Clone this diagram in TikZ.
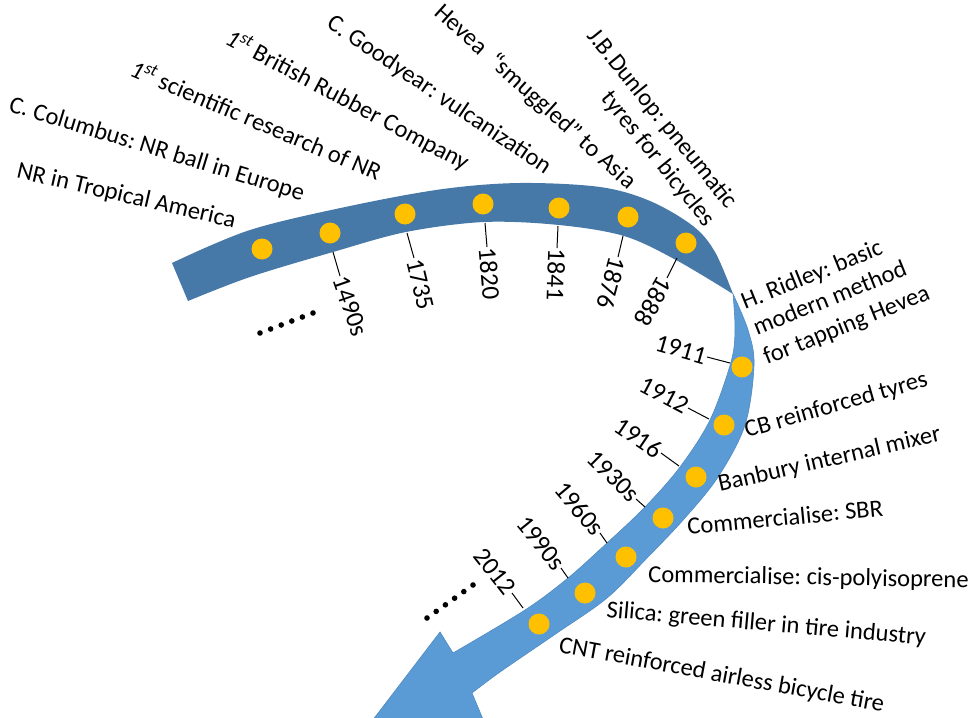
\documentclass[tikz,border=0pt]{standalone}
\usepackage{fontspec}
\setmainfont{Carlito}
\definecolor{darkband}{HTML}{4779A8}
\definecolor{lightband}{HTML}{5B9BD5}
\definecolor{lightedge}{HTML}{4F8AC2}
\definecolor{dotyel}{HTML}{FFC000}
\begin{document}
\frenchspacing
\begin{tikzpicture}[x=1pt,y=-1pt,
  evt/.style={font=\fontsize{24.5}{29}\selectfont, inner sep=0pt},
  yrup/.style={font=\fontsize{25.5}{29}\selectfont, inner sep=1pt, anchor=west},
  yrlow/.style={font=\fontsize{25.5}{29}\selectfont, inner sep=1pt, anchor=east},
  ticklink/.style={line width=1pt},
  ydot/.style={circle, fill=dotyel, minimum size=21pt, inner sep=0pt},
  edot/.style={fill=black}]
\clip (0,0) rectangle (973,717);
\fill[white] (0,0) rectangle (973,717);
% dark (upper) part of the band
\fill[darkband] plot[smooth,tension=0.55] coordinates {(172,263)(250,230)(350,206)(443,189)(520,183)(600,187)(650,201)(693,226)(715,252)(733,294)}
  -- plot[smooth,tension=0.55] coordinates {(733,294)(676,260)(624,236)(559,225)(484,222)(406,232)(333,252)(250,277)(188,301)} -- cycle;
% light (lower) part with arrow head
\filldraw[fill=lightband, draw=lightedge, line width=0.6pt] plot[smooth,tension=0.55] coordinates {(733,294)(748,330)(754,365)(745,425)(718,477)(684,519)(647,558)(607,598)(557,633)(500,672)(472,693)}
  -- (490,736) -- (359,738) -- (440,632)
  -- plot[smooth,tension=0.55] coordinates {(453,653)(525,610)(568,578)(607,543)(645,507)(680,467)(710,420)(731,362)(735,330)(733,294)} -- cycle;
% dots
\node[ydot] (d1) at (262,249) {};
\node[ydot] (d2) at (330,233) {};
\node[ydot] (d3) at (405,214) {};
\node[ydot] (d4) at (483,204) {};
\node[ydot] (d5) at (559,208) {};
\node[ydot] (d6) at (628,217) {};
\node[ydot] (d7) at (686,243) {};
\node[ydot] (d8) at (742,367) {};
\node[ydot] (d9) at (724,425) {};
\node[ydot] (d10) at (696,477) {};
\node[ydot] (d11) at (663,518) {};
\node[ydot] (d12) at (626,557) {};
\node[ydot] (d13) at (585,593) {};
\node[ydot] (d14) at (539,624) {};
% upper events
\node[evt, anchor=base east, rotate=-13] (e1) at (234,228) {NR in Tropical America};
\node[evt, anchor=base east, rotate=-17] (e2) at (302,201) {C. Columbus: NR ball in Europe};
\node[evt, anchor=base east, rotate=-23] (e3) at (377,181) {\textit{1\textsuperscript{st}} scientific research of NR};
\node[evt, anchor=base east, rotate=-28] (e4) at (464,171) {\textit{1\textsuperscript{st}} British Rubber Company};
\node[evt, anchor=base east, rotate=-34] (e5) at (545,175) {C. Goodyear: vulcanization};
\node[evt, anchor=base east, rotate=-42] (e6) at (628,190) {Hevea\ \ “smuggled” to Asia};
\node[evt, anchor=base east, rotate=-51] (e7a) at (727,210) {J.B.Dunlop: pneumatic};
\node[evt, anchor=base east, rotate=-51] (e7b) at (705,228) {tyres for bicycles};
% lower events
\node[evt, anchor=base west, rotate=22] (e8a) at (745,310) {H. Ridley: basic};
\node[evt, anchor=base west, rotate=22] (e8b) at (757,336) {modern method};
\node[evt, anchor=base west, rotate=22] (e8c) at (767,365) {for tapping Hevea};
\node[evt, anchor=base west, rotate=16] (e9) at (747,438) {CB reinforced tyres};
\node[evt, anchor=base west, rotate=13] (e10) at (720,492) {Banbury internal mixer};
\node[evt, anchor=base west, rotate=5.5] (e11) at (688,535) {Commercialise: SBR};
\node[evt, anchor=base west, rotate=-1] (e12) at (648,582) {Commercialise: cis-polyisoprene};
\node[evt, anchor=base west, rotate=-5] (e13) at (606,617) {Silica: green filler in tire industry};
\node[evt, anchor=base west, rotate=-10.5] (e14) at (558,652) {CNT reinforced airless bicycle tire};
% upper years
\coordinate (t2) at (333,252); \coordinate (u2) at (340,276);
\coordinate (t3) at (407,233); \coordinate (u3) at (414,258);
\coordinate (t4) at (485,223); \coordinate (u4) at (487,247);
\coordinate (t5) at (558,226); \coordinate (u5) at (557,248);
\coordinate (t6) at (623,236); \coordinate (u6) at (618,257);
\coordinate (t7) at (677,258); \coordinate (u7) at (667,278);
\node[yrup, rotate=-71] (y2) at (u2) {1490s};
\node[yrup, rotate=-76.5] (y3) at (u3) {1735};
\node[yrup, rotate=-85] (y4) at (u4) {1820};
\node[yrup, rotate=-92] (y5) at (u5) {1841};
\node[yrup, rotate=-105] (y6) at (u6) {1876};
\node[yrup, rotate=-120] (y7) at (u7) {1888};
\draw[ticklink] (t2) -- (y2.west);
\draw[ticklink] (t3) -- (y3.west);
\draw[ticklink] (t4) -- (y4.west);
\draw[ticklink] (t5) -- (y5.west);
\draw[ticklink] (t6) -- (y6.west);
\draw[ticklink] (t7) -- (y7.west);
% lower years
\coordinate (t8) at (730,363); \coordinate (u8) at (707,357);
\coordinate (t9) at (709,419); \coordinate (u9) at (688,408);
\coordinate (t10) at (679,466); \coordinate (u10) at (661,453);
\coordinate (t11) at (645,507); \coordinate (u11) at (636,499);
\coordinate (t12) at (607,543); \coordinate (u12) at (600,533);
\coordinate (t13) at (568,578); \coordinate (u13) at (561,568);
\coordinate (t14) at (523,608); \coordinate (u14) at (512,593);
\node[yrlow, rotate=-16] (y8) at (u8) {1911};
\node[yrlow, rotate=-28] (y9) at (u9) {1912};
\node[yrlow, rotate=-34] (y10) at (u10) {1916};
\node[yrlow, rotate=-45] (y11) at (u11) {1930s};
\node[yrlow, rotate=-50] (y12) at (u12) {1960s};
\node[yrlow, rotate=-51] (y13) at (u13) {1990s};
\node[yrlow, rotate=-52] (y14) at (u14) {2012};
\draw[ticklink] (t8) -- (y8.east);
\draw[ticklink] (t9) -- (y9.east);
\draw[ticklink] (t10) -- (y10.east);
\draw[ticklink] (t11) -- (y11.east);
\draw[ticklink] (t12) -- (y12.east);
\draw[ticklink] (t13) -- (y13.east);
\draw[ticklink] (t14) -- (y14.east);
% ellipses
\foreach \i in {0,...,5} {
  \fill[edot] ({260+\i*10.6},{333-\i*4}) circle (2.8pt);
  \fill[edot] ({427+\i*9.2},{618-\i*6.6}) circle (2.8pt);
}
\end{tikzpicture}
\end{document}
